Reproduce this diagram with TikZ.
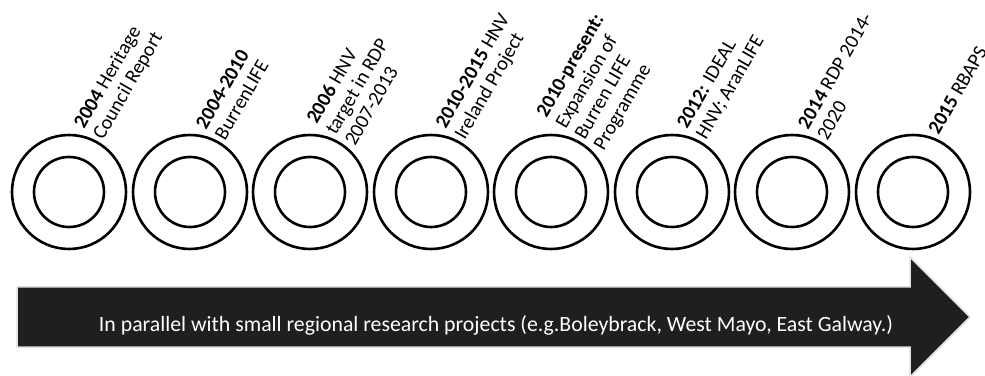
\documentclass[tikz,border=0pt]{standalone}
\usepackage{fontspec}
\setmainfont{Carlito}
\begin{document}
\begin{tikzpicture}[
                x=1pt, y=1pt,
                ring/.style={circle,draw,line width=2.6pt,minimum size=114pt,inner sep=0pt},
                core/.style={circle,draw,line width=2.6pt,minimum size=70pt,inner sep=0pt},
                lbl/.style={rotate=60,anchor=west,align=left,inner sep=0pt,
                    font=\fontsize{20}{22}\selectfont},
                bandtext/.style={text=white,inner sep=0pt,font=\fontsize{21.8}{24}\selectfont}
            ]
            \useasboundingbox (0,0) rectangle (985,375);

            % the band along the bottom
            \fill[black!88, draw=black!12, line width=1.5pt]
                (17,88) -- (910,88) -- (910,118) -- (970,58)
                -- (910,-2) -- (910,28) -- (17,28) -- cycle;
            \node[bandtext] (band) at (496,50)
                {In parallel with small regional research projects (e.g.Boleybrack, West Mayo, East Galway.)};

            % rings
            \node[ring] (r1) at (69,183) {};
            \node[ring] (r2) at (190,183) {};
            \node[ring] (r3) at (310,183) {};
            \node[ring] (r4) at (431,183) {};
            \node[ring] (r5) at (551,183) {};
            \node[ring] (r6) at (672,183) {};
            \node[ring] (r7) at (792,183) {};
            \node[ring] (r8) at (913,183) {};
            \node[core] (c1) at (r1) {};
            \node[core] (c2) at (r2) {};
            \node[core] (c3) at (r3) {};
            \node[core] (c4) at (r4) {};
            \node[core] (c5) at (r5) {};
            \node[core] (c6) at (r6) {};
            \node[core] (c7) at (r7) {};
            \node[core] (c8) at (r8) {};

            % labels
            \node[lbl] (l1) at ([xshift=20pt,yshift=1pt]r1.north) {\textbf{2004} Heritage\\Council Report};
            \node[lbl] (l2) at ([xshift=20pt,yshift=1pt]r2.north) {\textbf{2004-2010}\\BurrenLIFE};
            \node[lbl] (l3) at ([xshift=20pt,yshift=1pt]r3.north) {\textbf{2006} HNV\\target in RDP\\2007-2013};
            \node[lbl] (l4) at ([xshift=20pt,yshift=1pt]r4.north) {\textbf{2010-2015} HNV\\Ireland Project};
            \node[lbl] (l5) at ([xshift=20pt,yshift=1pt]r5.north) {\textbf{2010-present:}\\Expansion of\\Burren LIFE\\Programme};
            \node[lbl] (l6) at ([xshift=20pt,yshift=1pt]r6.north) {\textbf{2012:} IDEAL\\HNV; AranLIFE};
            \node[lbl] (l7) at ([xshift=20pt,yshift=1pt]r7.north) {\textbf{2014} RDP 2014-\\2020};
            \node[lbl] (l8) at ([xshift=20pt,yshift=1pt]r8.north) {\textbf{2015} RBAPS};

        \end{tikzpicture}
\end{document}
